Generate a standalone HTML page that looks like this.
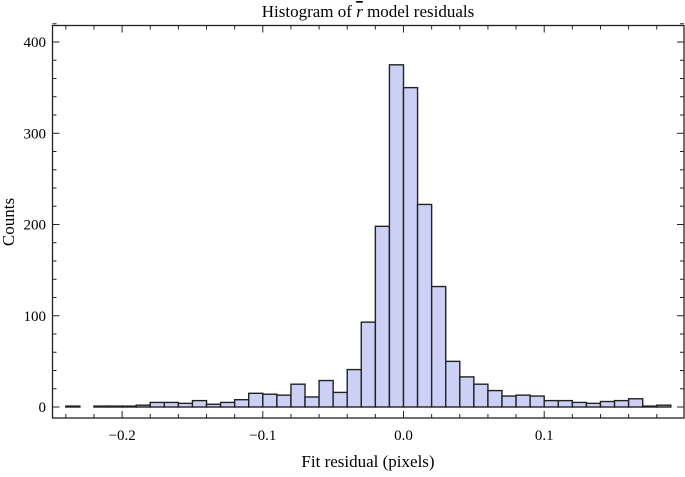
<!DOCTYPE html>
<html><head><meta charset="utf-8"><style>
body{margin:0;background:#fff;}
svg text{font-family:"Liberation Serif",serif;fill:#000;}
</style></head><body>
<svg id="chart" width="685" height="472" xmlns="http://www.w3.org/2000/svg">
<text x="368" y="17" font-size="17" text-anchor="middle">Histogram of <tspan text-decoration="overline" font-style="italic">r</tspan> model residuals</text>
<text x="368" y="467" font-size="17" text-anchor="middle">Fit residual (pixels)</text>
<text transform="translate(14,222) rotate(-90)" font-size="17" text-anchor="middle">Counts</text>
<g id="bars"></g>
<g id="axes"></g>
</svg>
<script>
const binStarts=[-0.24,-0.23,-0.22,-0.21,-0.20,-0.19,-0.18,-0.17,-0.16,-0.15,-0.14,-0.13,-0.12,-0.11,-0.10,-0.09,-0.08,-0.07,-0.06,-0.05,-0.04,-0.03,-0.02,-0.01,0.00,0.01,0.02,0.03,0.04,0.05,0.06,0.07,0.08,0.09,0.10,0.11,0.12,0.13,0.14,0.15,0.16,0.17,0.18];
const counts=[1,0,1,1,1,2,5,5,4,7,3,5,8,15,14,13,25,11,29,16,41,93,198,375,350,222,132,50,33,25,18,12,13,12,7,7,5,4,6,7,9,1,2];
const xTicks=[-0.2,-0.1,0.0,0.1];
const xTickLabels=["\u22120.2","\u22120.1","0.0","0.1"];
const yTicks=[0,100,200,300,400];
const binWidth=0.01;
const L=52.5,R=684,T=25.5,B=418;
const xS=v=>403.5+v*1407;
const yS=v=>407-v*0.9125;
const NS="http://www.w3.org/2000/svg";
const bars=document.getElementById('bars'),axes=document.getElementById('axes');
function mk(tag,attrs,parent){const e=document.createElementNS(NS,tag);for(const k in attrs)e.setAttribute(k,attrs[k]);parent.appendChild(e);return e;}
binStarts.forEach((b,i)=>{
  if(counts[i]<=0)return;
  const x0=xS(b),x1=xS(b+binWidth),y=yS(counts[i]);
  const r=mk('rect',{x:x0,y:y,width:x1-x0,height:yS(0)-y,fill:'#ccd0f5',stroke:'#222','stroke-width':1.4},bars);
  
  
});
const fr=mk('rect',{x:L,y:T,width:R-L,height:B-T,fill:'none',stroke:'#222','stroke-width':1.3},axes);


for(let v=-0.24;v<=0.19;v+=0.02){const x=xS(v);const maj=xTicks.some(t=>Math.abs(t-v)<1e-6);const len=maj?7:4;
 mk('line',{x1:x,x2:x,y1:B,y2:B-len,stroke:'#222','stroke-width':1},axes);
 mk('line',{x1:x,x2:x,y1:T,y2:T+len,stroke:'#222','stroke-width':1},axes);}
xTicks.forEach((v,i)=>{const t=mk('text',{x:xS(v),y:440,'font-size':15,'text-anchor':'middle'},axes);t.textContent=xTickLabels[i];
 
 });
for(let v=0;v<=420;v+=20){const y=yS(v);const maj=v%100===0;const len=maj?7:4;
 mk('line',{x1:L,x2:L+len,y1:y,y2:y,stroke:'#222','stroke-width':1},axes);
 mk('line',{x1:R,x2:R-len,y1:y,y2:y,stroke:'#222','stroke-width':1},axes);}
yTicks.forEach(v=>{const t=mk('text',{x:46,y:yS(v)+5,'font-size':15,'text-anchor':'end'},axes);t.textContent=v;
 
 });
</script>
</body></html>
